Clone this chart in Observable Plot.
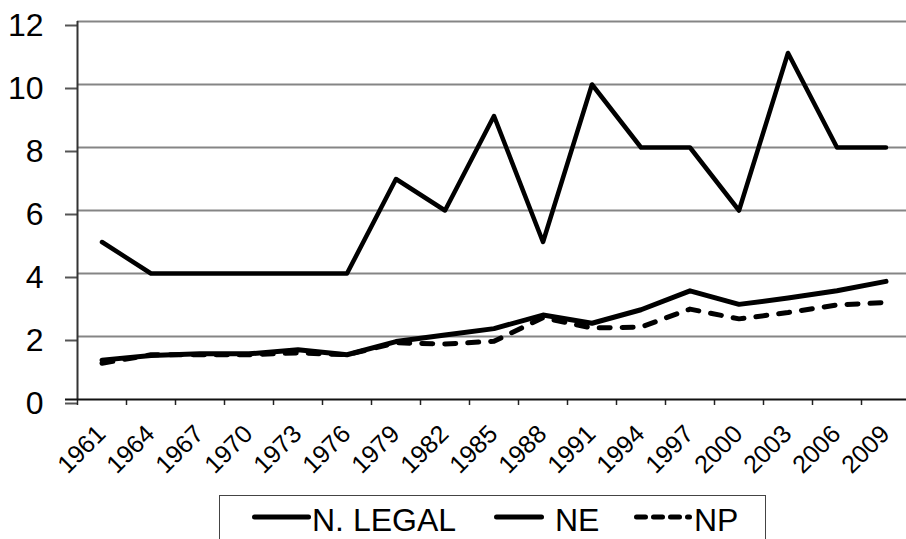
<!DOCTYPE html>
<html>
<head>
<meta charset="utf-8">
<script src="https://cdn.jsdelivr.net/npm/d3@7"></script>
<script src="https://cdn.jsdelivr.net/npm/@observablehq/plot@0.6"></script>
<style>
  html, body { margin: 0; padding: 0; background: white; overflow: hidden; }
  #chart svg { display: block; }
  #legend {
    margin-left: 219px; margin-top: 1px;
    width: 545px; height: 60px;
    border: 1.5px solid #444; border-bottom: none;
    overflow: hidden;
  }
  #legend text { font-family: "Liberation Sans", Arial, sans-serif; font-size: 32px; fill: black; }
</style>
</head>
<body>
<div id="chart"></div>
<div id="legend"></div>
<script>
// ---- data ----
const years = [1961, 1964, 1967, 1970, 1973, 1976, 1979, 1982, 1985, 1988, 1991, 1994, 1997, 2000, 2003, 2006, 2009];
const nLegal = [5, 4, 4, 4, 4, 4, 7, 6, 9, 5, 10, 8, 8, 6, 11, 8, 8];
const ne = [1.25, 1.4, 1.45, 1.45, 1.58, 1.42, 1.84, 2.05, 2.25, 2.68, 2.42, 2.85, 3.45, 3.02, 3.22, 3.45, 3.75];
const np = [1.15, 1.42, 1.42, 1.42, 1.48, 1.42, 1.8, 1.76, 1.85, 2.6, 2.27, 2.3, 2.87, 2.56, 2.76, 3.0, 3.08];
const yTicks = [0, 2, 4, 6, 8, 10, 12];
const seriesNames = ["N. LEGAL", "NE", "NP"];

const xBounds = years.map(y => y - 1.5).concat([years[years.length - 1] + 1.5]);
const rows = vals => years.map((year, i) => ({year, value: vals[i]}));

const chart = Plot.plot({
  width: 906,
  height: 494,
  marginLeft: 77,
  marginRight: 0,
  marginTop: 21,
  marginBottom: 95,
  x: {domain: [xBounds[0], xBounds[xBounds.length - 1]], range: [77, 910]},
  y: {domain: [0, 12]},
  style: {fontFamily: "'Liberation Sans', Arial, sans-serif", background: "white"},
  marks: [
    Plot.ruleY(yTicks.filter(d => d > 0), {stroke: "#858585", strokeWidth: 2}),
    Plot.axisY({ticks: yTicks, tickSize: 12, tickPadding: 22, fontSize: 32, dy: 4,
                stroke: "#555", strokeWidth: 2, fill: "black", label: null}),
    Plot.ruleX([xBounds[0]], {y1: 0, y2: 12, stroke: "#333", strokeWidth: 2}),
    Plot.axisX({ticks: xBounds, tickSize: 6, tickFormat: () => "", stroke: "#222", strokeWidth: 1.5, label: null}),
    Plot.ruleY([0], {stroke: "#111", strokeWidth: 2, insetLeft: -12}),
    Plot.text(years, {x: d => d, frameAnchor: "bottom", text: d => String(d), rotate: -45,
                      textAnchor: "end", lineAnchor: "bottom", dx: 5, dy: 36, fontSize: 25, fill: "black"}),
    Plot.line(rows(np), {x: "year", y: "value", stroke: "black", strokeWidth: 5,
                         strokeDasharray: "11,12", strokeLinecap: "round", strokeLinejoin: "round"}),
    Plot.line(rows(ne), {x: "year", y: "value", stroke: "black", strokeWidth: 5,
                         strokeLinecap: "round", strokeLinejoin: "round"}),
    Plot.line(rows(nLegal), {x: "year", y: "value", stroke: "black", strokeWidth: 4.5,
                             strokeLinecap: "round", strokeLinejoin: "round"})
  ]
});
document.getElementById("chart").appendChild(chart);

// ---- legend ----
const ns = "http://www.w3.org/2000/svg";
const lg = document.createElementNS(ns, "svg");
lg.setAttribute("width", 545);
lg.setAttribute("height", 60);
const items = [
  {name: seriesNames[0], x1: 34.5, x2: 88.5, tx: 92, dash: null},
  {name: seriesNames[1], x1: 276.5, x2: 321.5, tx: 335, dash: null},
  {name: seriesNames[2], x1: 416.5, x2: 469.5, tx: 474, dash: "9,8"}
];
for (const it of items) {
  const l = document.createElementNS(ns, "line");
  l.setAttribute("x1", it.x1); l.setAttribute("x2", it.x2);
  l.setAttribute("y1", 21); l.setAttribute("y2", 21);
  l.setAttribute("stroke", "black"); l.setAttribute("stroke-width", 5);
  l.setAttribute("stroke-linecap", "round");
  if (it.dash) l.setAttribute("stroke-dasharray", it.dash);
  lg.appendChild(l);
  const t = document.createElementNS(ns, "text");
  t.setAttribute("x", it.tx); t.setAttribute("y", 35);
  t.textContent = it.name;
  lg.appendChild(t);
}
document.getElementById("legend").appendChild(lg);
</script>
</body>
</html>
